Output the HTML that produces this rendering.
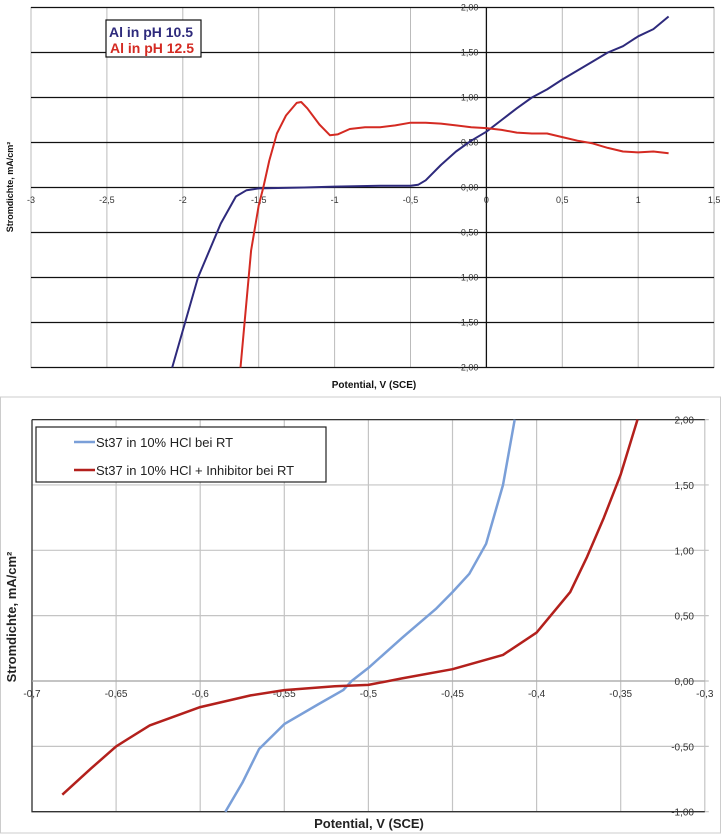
<!DOCTYPE html>
<html><head><meta charset="utf-8"><style>
body{margin:0;background:#fff;width:721px;height:834px;overflow:hidden;font-family:"Liberation Sans",sans-serif}
svg text{font-family:"Liberation Sans",sans-serif}
</style></head><body>
<svg id="s" width="721" height="834">
<g id="top"></g>
<g id="bot"></g>
</svg>
<script>
// Top chart data
const topXTicks=[-3,-2.5,-2,-1.5,-1,-0.5,0,0.5,1,1.5];
const topXTickLabels=["-3","-2,5","-2","-1,5","-1","-0,5","0","0,5","1","1,5"];
const topYTicks=[-2,-1.5,-1,-0.5,0,0.5,1,1.5,2];
const topYTickLabels=["-2,00","-1,50","-1,00","-0,50","0,00","0,50","1,00","1,50","2,00"];
const blueX=[-2.07,-1.9,-1.75,-1.65,-1.58,-1.5,-1.2,-1.0,-0.7,-0.5,-0.45,-0.4,-0.3,-0.2,-0.1,0,0.1,0.2,0.3,0.4,0.5,0.6,0.7,0.8,0.9,1.0,1.1,1.2];
const blueY=[-2.0,-1.0,-0.4,-0.1,-0.03,-0.01,0.0,0.01,0.02,0.02,0.03,0.08,0.25,0.4,0.52,0.62,0.75,0.88,1.0,1.09,1.2,1.3,1.4,1.5,1.57,1.68,1.76,1.9];
const redX=[-1.62,-1.55,-1.5,-1.47,-1.43,-1.38,-1.32,-1.25,-1.22,-1.18,-1.1,-1.03,-0.98,-0.9,-0.8,-0.7,-0.6,-0.5,-0.4,-0.3,-0.2,-0.1,0,0.1,0.2,0.3,0.4,0.5,0.6,0.7,0.8,0.9,1.0,1.1,1.2];
const redY=[-2.0,-0.7,-0.2,0.0,0.3,0.6,0.8,0.94,0.95,0.88,0.7,0.58,0.59,0.65,0.67,0.67,0.69,0.72,0.72,0.71,0.69,0.67,0.66,0.64,0.61,0.6,0.6,0.56,0.52,0.49,0.44,0.4,0.39,0.4,0.38];
// Bottom chart data
const botXTicks=[-0.7,-0.65,-0.6,-0.55,-0.5,-0.45,-0.4,-0.35,-0.3];
const botXTickLabels=["-0,7","-0,65","-0,6","-0,55","-0,5","-0,45","-0,4","-0,35","-0,3"];
const botYTicks=[-1,-0.5,0,0.5,1,1.5,2];
const botYTickLabels=["-1,00","-0,50","0,00","0,50","1,00","1,50","2,00"];
const st37X=[-0.585,-0.575,-0.565,-0.55,-0.53,-0.515,-0.51,-0.5,-0.48,-0.46,-0.45,-0.44,-0.43,-0.42,-0.413];
const st37Y=[-1.0,-0.78,-0.52,-0.33,-0.18,-0.07,0.0,0.1,0.33,0.55,0.68,0.82,1.05,1.5,2.0];
const inhX=[-0.682,-0.665,-0.65,-0.63,-0.6,-0.57,-0.55,-0.52,-0.5,-0.48,-0.45,-0.42,-0.4,-0.38,-0.37,-0.36,-0.35,-0.34];
const inhY=[-0.87,-0.67,-0.5,-0.34,-0.2,-0.11,-0.07,-0.04,-0.03,0.02,0.09,0.2,0.37,0.68,0.95,1.25,1.58,2.0];

const NS="http://www.w3.org/2000/svg";
function mk(p,tag,a,txt){const e=document.createElementNS(NS,tag);for(const k in a)e.setAttribute(k,a[k]);if(txt!==undefined)e.textContent=txt;p.appendChild(e);return e;}
function path(xs,ys,fx,fy){return xs.map((x,i)=>(i?'L':'M')+fx(x).toFixed(1)+','+fy(ys[i]).toFixed(1)).join('');}

// ---- top chart ----
const T=document.getElementById('top');
const tx=v=>31+(v+3)*151.8, ty=v=>187.5-v*90;
let r=mk(T,'rect',{x:31,y:ty(2),width:683,height:360,fill:'#fff',stroke:'#999','stroke-width':1});


topXTicks.forEach(v=>{if(v===0)return;let l=mk(T,'line',{x1:tx(v),x2:tx(v),y1:ty(2),y2:ty(-2),stroke:'#bbb','stroke-width':1});

});
topYTicks.forEach(v=>{let l=mk(T,'line',{x1:31,x2:714,y1:ty(v),y2:ty(v),stroke:'#111','stroke-width':1.3});

});
let ya=mk(T,'line',{x1:tx(0),x2:tx(0),y1:ty(2),y2:ty(-2),stroke:'#111','stroke-width':1.3});


topXTicks.forEach((v,i)=>{let t=mk(T,'text',{x:tx(v),y:203,'font-size':9,'text-anchor':'middle',fill:'#333'},topXTickLabels[i]);

});
topYTicks.forEach((v,i)=>{let t=mk(T,'text',{x:tx(0)-8,y:ty(v)+3,'font-size':9,'text-anchor':'end',fill:'#333'},topYTickLabels[i]);

});
let pb=mk(T,'path',{d:path(blueX,blueY,tx,ty),fill:'none',stroke:'#2e2a7c','stroke-width':2,'stroke-linejoin':'round'});


let pr=mk(T,'path',{d:path(redX,redY,tx,ty),fill:'none',stroke:'#d42a22','stroke-width':2,'stroke-linejoin':'round'});


let lg=mk(T,'g',{});


mk(lg,'rect',{x:106,y:20,width:95,height:37,fill:'#fff',stroke:'#111','stroke-width':1.2});
let l1=mk(lg,'text',{x:109,y:37,'font-size':14,'font-weight':'bold',fill:'#2e2a7c'},'Al in  pH 10.5');


let l2=mk(lg,'text',{x:110,y:53,'font-size':14,'font-weight':'bold',fill:'#d42a22'},'Al in pH 12.5');


let xt=mk(T,'text',{x:374,y:388,'font-size':10,'font-weight':'bold','text-anchor':'middle',fill:'#111'},'Potential, V (SCE)');


let yt=mk(T,'text',{x:13,y:187,'font-size':9,'font-weight':'bold','text-anchor':'middle',fill:'#111',transform:'rotate(-90 13 187)'},'Stromdichte,  mA/cm²');



// ---- bottom chart ----
const B=document.getElementById('bot');
const bx=v=>32+(v+0.7)*1682, by=v=>681-v*130.7;
let fr=mk(B,'rect',{x:0.5,y:397,width:720,height:436,fill:'#fff',stroke:'#ccc','stroke-width':1});


botXTicks.forEach(v=>{let l=mk(B,'line',{x1:bx(v),x2:bx(v),y1:by(2),y2:by(-1),stroke:'#c4c4c4','stroke-width':1.2});

});
botYTicks.forEach(v=>{let l=mk(B,'line',{x1:bx(-0.7),x2:bx(-0.3)+4,y1:by(v),y2:by(v),stroke:'#c4c4c4','stroke-width':1.2});

});
let bb=mk(B,'path',{d:`M${bx(-0.7)},${by(2)}H${bx(-0.3)}M${bx(-0.7)},${by(2)}V${by(-1)}H${bx(-0.3)}`,fill:'none',stroke:'#333','stroke-width':1.3});


let ax0=mk(B,'line',{x1:bx(-0.7),x2:bx(-0.3),y1:by(0),y2:by(0),stroke:'#aaa','stroke-width':1.2});


botXTicks.forEach((v,i)=>{let t=mk(B,'text',{x:bx(v),y:697,'font-size':10,'text-anchor':'middle',fill:'#333'},botXTickLabels[i]);

});
botYTicks.forEach((v,i)=>{let t=mk(B,'text',{x:694,y:by(v)+4,'font-size':10,'text-anchor':'end',fill:'#333'},botYTickLabels[i]);

});
let ps=mk(B,'path',{d:path(st37X,st37Y,bx,by),fill:'none',stroke:'#7a9fd8','stroke-width':2.5,'stroke-linejoin':'round'});


let pi=mk(B,'path',{d:path(inhX,inhY,bx,by),fill:'none',stroke:'#b3201c','stroke-width':2.5,'stroke-linejoin':'round'});


let lg2=mk(B,'g',{});


mk(lg2,'rect',{x:36,y:427,width:290,height:55,fill:'#fff',stroke:'#222','stroke-width':1.2});
mk(lg2,'line',{x1:74,x2:95,y1:442,y2:442,stroke:'#7a9fd8','stroke-width':2.5});
mk(lg2,'line',{x1:74,x2:95,y1:470,y2:470,stroke:'#b3201c','stroke-width':2.5});
let e1=mk(lg2,'text',{x:96,y:447,'font-size':13,fill:'#222'},'St37 in 10% HCl bei RT');


let e2=mk(lg2,'text',{x:96,y:475,'font-size':13,fill:'#222'},'St37 in 10% HCl + Inhibitor bei RT');


let xt2=mk(B,'text',{x:369,y:828,'font-size':13,'font-weight':'bold','text-anchor':'middle',fill:'#222'},'Potential, V (SCE)');


let yt2=mk(B,'text',{x:16,y:617,'font-size':13,'font-weight':'bold','text-anchor':'middle',fill:'#222',transform:'rotate(-90 16 617)'},'Stromdichte, mA/cm²');


</script>
</body></html>
